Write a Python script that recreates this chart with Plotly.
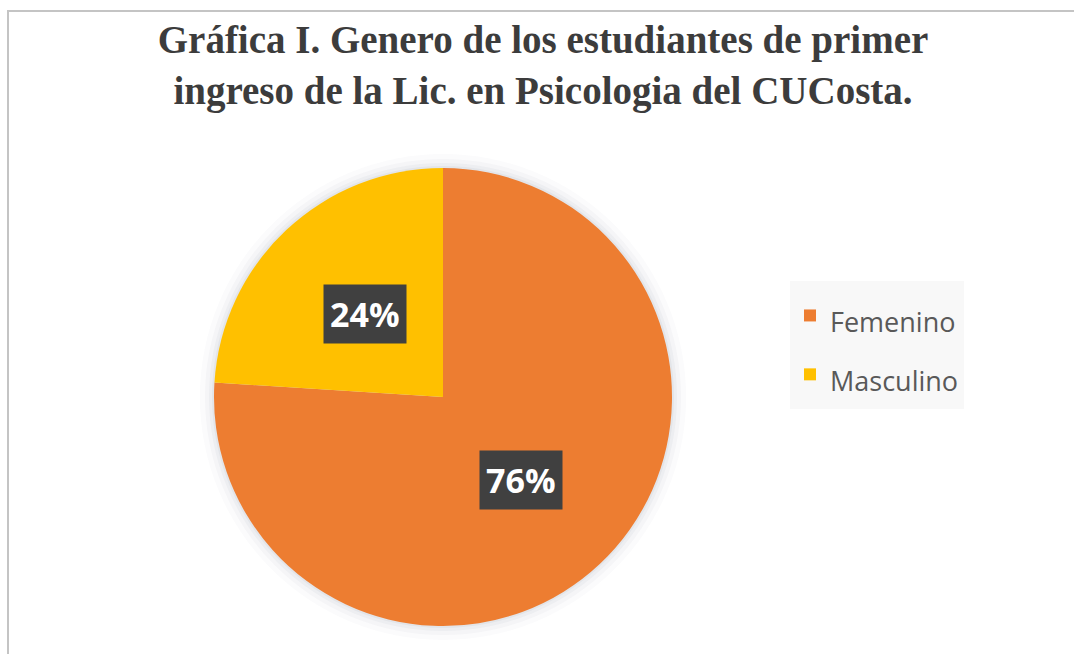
import math
import plotly.graph_objects as go

# Data
categories = ["Femenino", "Masculino"]
values = [76, 24]
colors = ["#ED7D31", "#FFC000"]
title_text = "Gráfica I. Genero de los estudiantes de primer<br>ingreso de la Lic. en Psicologia del CUCosta."

W, H = 1074, 654
cx, cy, r = 443, 397, 229  # pie center (px from left/top) and radius


def domain_for(radius):
    return dict(x=[(cx - radius) / W, (cx + radius) / W],
                y=[(H - cy - radius) / H, (H - cy + radius) / H])


legend_labels = [f'<span style="font-size:27px">{c}</span>' for c in categories]

fig = go.Figure()

# soft shadow layers behind the pie
for extra, alpha in [(14, 0.02), (9, 0.03), (5, 0.04), (2, 0.05)]:
    fig.add_trace(go.Pie(
        values=[1], labels=["shadow"], showlegend=False,
        marker=dict(colors=[f"rgba(60,70,90,{alpha})"], line=dict(width=0)),
        textinfo="none", hoverinfo="skip", sort=False,
        domain=domain_for(r + extra),
    ))

fig.add_trace(go.Pie(
    labels=legend_labels,
    values=values,
    marker=dict(colors=colors, line=dict(width=0)),
    sort=False,
    direction="clockwise",
    rotation=0,
    textinfo="none",
    hoverinfo="label+percent",
    domain=domain_for(r),
))

# Data labels placed at half radius along each slice's middle angle
total = sum(values)
annotations = []
start = 0.0
for v in values:
    mid = (start + v / 2) / total * 2 * math.pi
    start += v
    px = cx + 0.5 * r * math.sin(mid)
    py = cy - 0.5 * r * math.cos(mid)
    pct = f"{round(v / total * 100)}%"
    annotations.append(dict(
        x=px / W, y=1 - py / H, xref="paper", yref="paper",
        text=f"<b>{pct}</b>", showarrow=False,
        font=dict(family="Open Sans", size=34, color="white"),
        bgcolor="#404040", borderpad=6,
        xanchor="center", yanchor="middle",
    ))

fig.update_layout(
    width=W, height=H,
    margin=dict(l=0, r=0, t=0, b=0),
    paper_bgcolor="white",
    title=dict(
        text=f"<b>{title_text}</b>",
        font=dict(family="Liberation Serif", size=39, color="#3c3c3c"),
        x=543 / W, xanchor="center",
        y=1 - 53 / H, yanchor="top", yref="container",
    ),
    legend=dict(
        x=790 / W, xanchor="left",
        y=1 - 281 / H, yanchor="top",
        bgcolor="#f8f8f8",
        font=dict(family="Open Sans", size=43, color="#595959"),
        itemclick=False,
    ),
    annotations=annotations,
    shapes=[dict(
        type="rect", xref="paper", yref="paper",
        x0=8 / W, x1=1.02, y0=-0.02, y1=1 - 11 / H,
        line=dict(color="#c4c4c4", width=2),
    )],
)

fig.write_html("out.html", config={"displayModeBar": False},
               post_script="document.body.style.margin='0';")
